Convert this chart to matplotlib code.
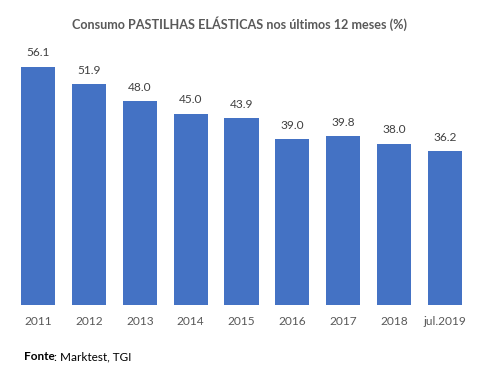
import matplotlib
matplotlib.use("Agg")
import matplotlib.pyplot as plt

categories = ["2011", "2012", "2013", "2014", "2015", "2016", "2017", "2018", "jul.2019"]
values = [56.1, 51.9, 48.0, 45.0, 43.9, 39.0, 39.8, 38.0, 36.2]

W, H = 481, 374
fig = plt.figure(figsize=(W / 100, H / 100), dpi=100)
plt.rcParams['font.family'] = ['Lato', 'DejaVu Sans']

left, right = 12.6, 470.4
top, bottom = 50, 305
ax = fig.add_axes([left / W, 1 - bottom / H, (right - left) / W, (bottom - top) / H])

x = list(range(len(categories)))
ax.bar(x, values, width=0.67, color="#4472C4")
ax.set_xlim(-0.5, len(categories) - 0.5)
ax.set_ylim(0, 60)
for s in ax.spines.values():
    s.set_visible(False)
ax.set_yticks([])
ax.set_xticks(x)
ax.set_xticklabels(categories, fontsize=8.6, color="#595959")
ax.tick_params(axis="x", length=0, pad=8)

for xi, v in zip(x, values):
    ax.annotate(f"{v:.1f}", (xi, v), xytext=(0, 6), textcoords="offset points",
                ha="center", va="bottom", fontsize=8.6, color="#404040")

fig.text(240 / W, 1 - 24 / H, "Consumo PASTILHAS ELÁSTICAS nos últimos 12 meses (%)",
         ha="center", va="center", fontsize=9.1, fontweight="bold", color="#595959")

t1 = fig.text(24 / W, 1 - 357 / H, "Fonte", ha="left", va="center", fontsize=8.5,
              fontweight="bold", color="black")
fig.canvas.draw()
bb = t1.get_window_extent()
fig.text((bb.x1 - 1) / W, 1 - 357 / H, ": Marktest, TGI", ha="left", va="center",
         fontsize=8.5, color="black")

fig.savefig("out.png", dpi=100)
